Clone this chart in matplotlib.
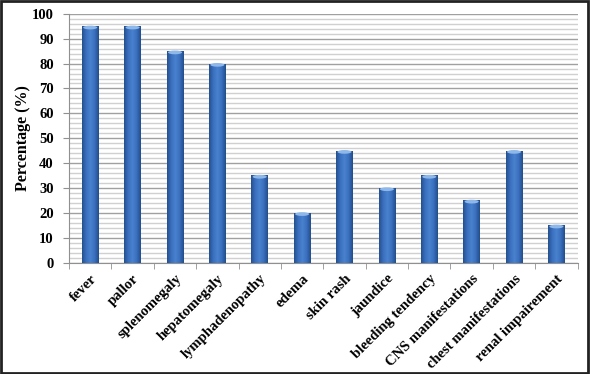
import numpy as np
import matplotlib.pyplot as plt
from matplotlib.colors import LinearSegmentedColormap
from matplotlib.patches import Rectangle, Ellipse

categories = ['fever', 'pallor', 'splenomegaly', 'hepatomegaly', 'lymphadenopathy',
              'edema', 'skin rash', 'jaundice', 'bleeding tendency',
              'CNS manifestations', 'chest manifestations', 'renal impairement']
values = [95, 95, 85, 80, 35, 20, 45, 30, 35, 25, 45, 15]

plt.rcParams['font.family'] = ['Liberation Serif', 'DejaVu Serif']

fig = plt.figure(figsize=(5.9, 3.74), dpi=100)
ax = fig.add_axes([0.117, 0.298, 0.862, 0.665])

x = np.arange(len(categories))
w = 0.39
cyl = LinearSegmentedColormap.from_list('cyl', ['#24508e', '#3a70bf', '#4a82cf', '#3a70bf', '#224d8a'])
grad = np.linspace(0, 1, 64).reshape(1, -1)

bars = ax.bar(x, values, width=w, color='none', zorder=3)
for b in bars:
    x0, y0 = b.get_x(), b.get_y()
    bw, bh = b.get_width(), b.get_height()
    im = ax.imshow(grad, cmap=cyl, aspect='auto', extent=[x0, x0 + bw, y0, y0 + bh], zorder=3)
    clip = Rectangle((x0, y0), bw, bh, transform=ax.transData)
    im.set_clip_path(clip)
    ax.add_patch(Ellipse((x0 + bw / 2, y0 + bh - 0.5), bw * 0.85, 1.5,
                         facecolor='#8fb8ea', edgecolor='none', zorder=4))

ax.set_xlim(-0.5, len(categories) - 0.5)
ax.set_ylim(0, 100)
ax.set_yticks(np.arange(0, 101, 10))
ax.set_yticks(np.arange(0, 101, 2), minor=True)
ax.grid(axis='y', which='major', color='#a0a0a0', linewidth=1.0, zorder=0)
ax.grid(axis='y', which='minor', color='#d0d0d0', linewidth=1.0, zorder=0)
ax.set_axisbelow(True)

ax.set_xticks(x)
ax.set_xticklabels(categories, rotation=45, ha='right', rotation_mode='anchor',
                   fontsize=10.5, fontweight='bold')
ax.tick_params(axis='x', which='major', length=0, pad=7)
ax.set_xticks(np.arange(-0.5, len(categories), 1), minor=True)
ax.tick_params(axis='x', which='minor', length=4, color='#909090', direction='out')
ax.tick_params(axis='y', which='major', labelsize=10.5, length=4, color='#909090', pad=7)
ax.tick_params(axis='y', which='minor', length=0)
for lbl in ax.get_yticklabels():
    lbl.set_fontweight('bold')

ax.set_ylabel('Percentage (%)', fontsize=11.5, fontweight='bold')
ax.yaxis.set_label_coords(-0.074, 0.5)

for s in ['top', 'right']:
    ax.spines[s].set_visible(False)
for s in ['left', 'bottom']:
    ax.spines[s].set_color('#909090')

fig.patches.append(Rectangle((0.002, 0.003), 0.995, 0.994, transform=fig.transFigure,
                             fill=False, edgecolor='#222222', linewidth=2))

fig.savefig('out.png', dpi=100)
